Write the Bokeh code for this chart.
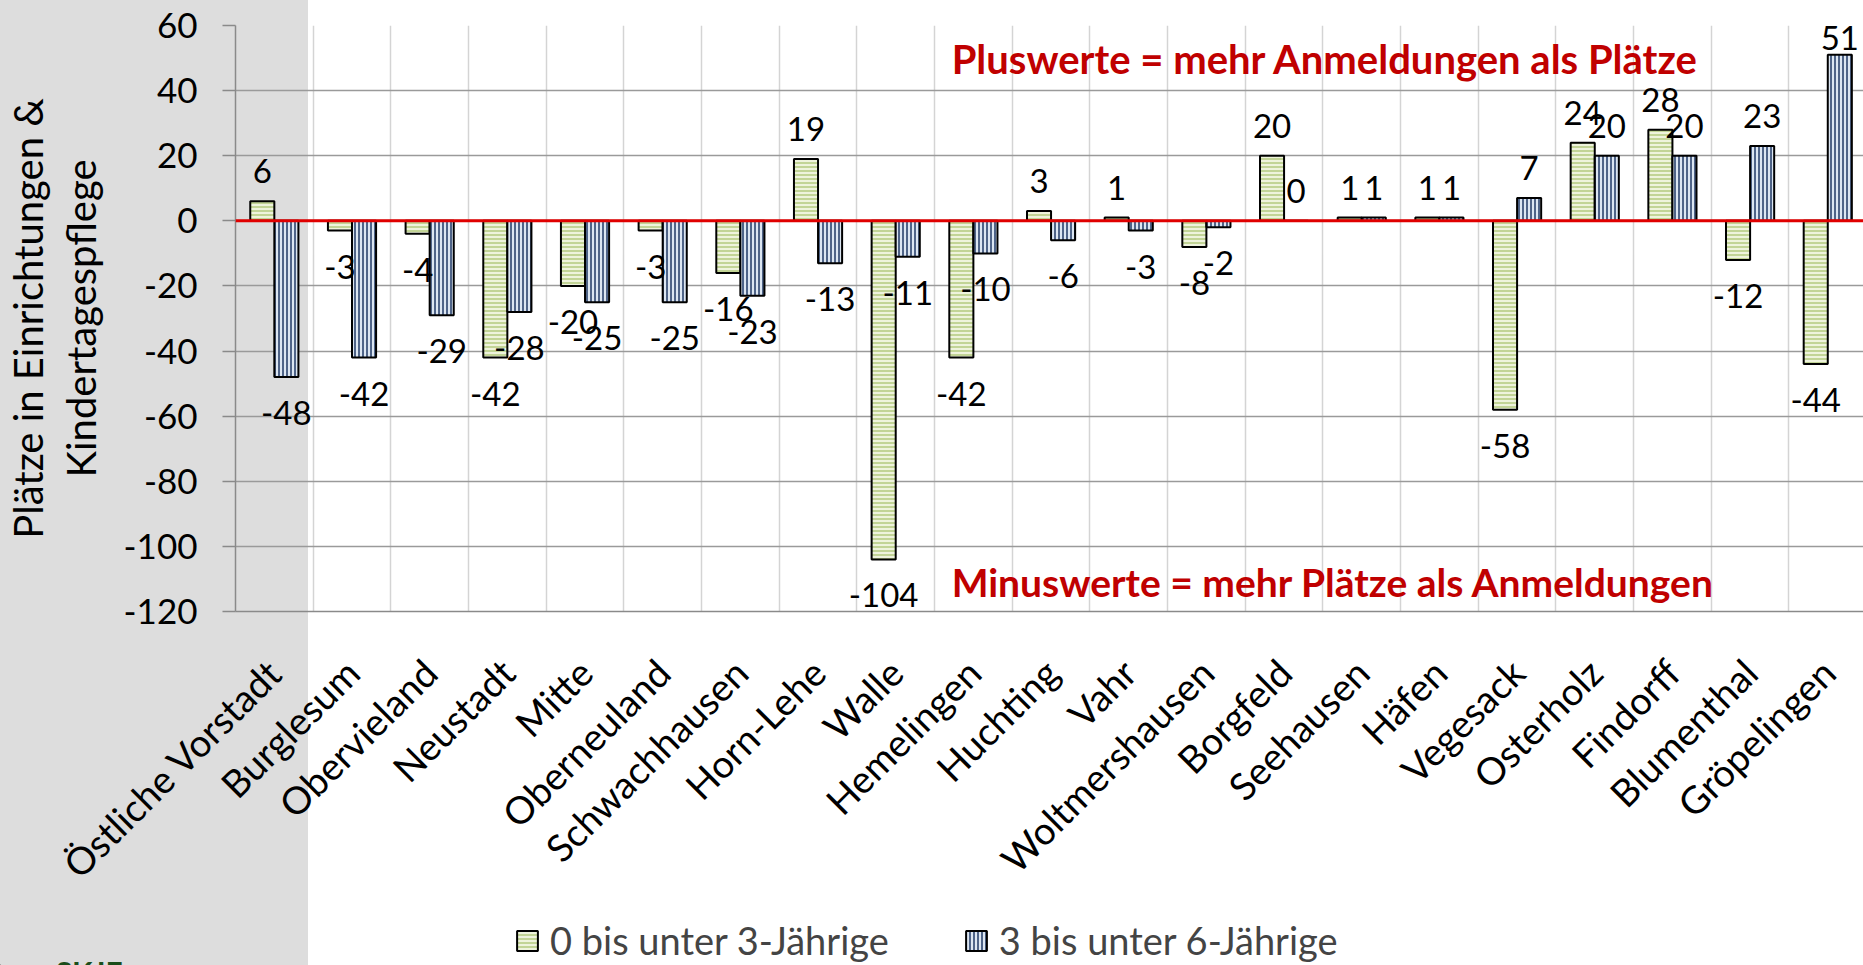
import numpy as np
from bokeh.plotting import figure
from bokeh.layouts import column
from bokeh.models import (Range1d, FixedTicker, Span, Label,
                          Legend, LegendItem, ColumnDataSource)
from bokeh.transform import dodge
from bokeh.core.properties import value
from bokeh.embed import file_html
from bokeh.resources import INLINE

# ---------------- data ----------------
districts = ["Östliche Vorstadt", "Burglesum", "Obervieland", "Neustadt", "Mitte",
             "Oberneuland", "Schwachhausen", "Horn-Lehe", "Walle", "Hemelingen",
             "Huchting", "Vahr", "Woltmershausen", "Borgfeld", "Seehausen", "Häfen",
             "Vegesack", "Osterholz", "Findorff", "Blumenthal", "Gröpelingen"]
u3 = [6, -3, -4, -42, -20, -3, -16, 19, -104, -42, 3, 1, -8, 20, 1, 1, -58, 24, 28, -12, -44]
u6 = [-48, -42, -29, -28, -25, -25, -23, -13, -11, -10, -6, -3, -2, 0, 1, 1, 7, 20, 20, 23, 51]
series_names = ["0 bis unter 3-Jährige", "3 bis unter 6-Jährige"]
y_ticks = list(range(-120, 61, 20))
y_title = "Plätze in Einrichtungen &\nKindertagespflege"
note_plus = "Pluswerte = mehr Anmeldungen als Plätze"
note_minus = "Minuswerte = mehr Plätze als Anmeldungen"
brand = "SKJF"

FONT = "Lato"
SIDEBAR = {"background": "linear-gradient(to right, #dddddd 0px, #dddddd 308px, #ffffff 308px, #ffffff 100%)"}
idx = list(range(1, len(districts) + 1))

GREEN = dict(fill_color="#eef3dc", line_color="black", line_width=2,
             hatch_pattern="horizontal_line", hatch_color="#b3ca7f",
             hatch_scale=4, hatch_weight=1.5)
BLUE = dict(fill_color="#dce6f2", line_color="black", line_width=2,
            hatch_pattern="vertical_line", hatch_color="#1f3864",
            hatch_scale=4, hatch_weight=1.5)

Y_TOP, Y_BOT, FRAME_H = 60, -120, 590
PX = FRAME_H / (Y_TOP - Y_BOT)


def label_offset(v):
    # above positive bars, below negative ones; keep labels inside the frame
    if v >= 0:
        return max(-30, 13 - (Y_TOP - v) * PX)
    return 36


src = ColumnDataSource(dict(
    x=idx, u3=u3, u6=u6,
    l3=[str(v) for v in u3], l6=[str(v) for v in u6],
    o3=[label_offset(v) for v in u3],
    o6=[label_offset(v) for v in u6],
))

p = figure(width=1863, height=905,
           x_range=Range1d(0.5, 21.46), y_range=Range1d(Y_BOT, Y_TOP),
           output_backend="svg", toolbar_location=None,
           min_border_left=233, min_border_right=0,
           min_border_top=25, min_border_bottom=290)
p.frame_align = False
p.background_fill_color = None
p.border_fill_color = None
p.outline_line_color = None
p.styles = SIDEBAR

# grids
p.xgrid.ticker = FixedTicker(ticks=[i + 0.5 for i in idx])
p.xgrid.grid_line_color = "#d4d4d4"
p.xgrid.grid_line_width = 1.5
p.ygrid.ticker = FixedTicker(ticks=y_ticks)
p.ygrid.grid_line_color = "#9a9a9a"
p.ygrid.grid_line_width = 1.5

w = 0.31
r1 = p.vbar(x=dodge("x", -w / 2, range=p.x_range), top="u3", bottom=0, width=w,
            source=src, **GREEN)
r2 = p.vbar(x=dodge("x", w / 2, range=p.x_range), top="u6", bottom=0, width=w,
            source=src, **BLUE)

p.add_layout(Span(location=0, dimension="width", line_color="#e00000", line_width=3))

for col, lab, off, dx in (("u3", "l3", "o3", -w / 2), ("u6", "l6", "o6", w / 2)):
    p.text(x=dodge("x", dx, range=p.x_range), y=col, text=lab, y_offset=off,
           source=src, text_align="center", text_baseline="middle",
           text_font=value(FONT), text_font_size="33px", text_color="black")

# notes
p.add_layout(Label(x=9.72, y=49.6, text=note_plus, text_font=FONT, text_font_size="40px",
                   text_font_style="bold", text_color="#c00000",
                   text_align="left", text_baseline="middle"))
p.add_layout(Label(x=9.72, y=-110.8, text=note_minus, text_font=FONT, text_font_size="39px",
                   text_font_style="bold", text_color="#c00000",
                   text_align="left", text_baseline="middle"))

# axes
p.yaxis.ticker = FixedTicker(ticks=y_ticks)
p.yaxis.major_label_overrides = {t: str(t) for t in y_ticks}
p.yaxis.axis_line_color = "#8a8a8a"
p.yaxis.axis_line_width = 1.5
p.yaxis.major_tick_line_color = "#8a8a8a"
p.yaxis.major_tick_line_width = 1.5
p.yaxis.major_tick_out = 13
p.yaxis.major_tick_in = 0
p.yaxis.minor_tick_line_color = None
p.yaxis.major_label_standoff = 25
p.yaxis.major_label_text_font = FONT
p.yaxis.major_label_text_font_size = "35px"
p.yaxis.major_label_text_color = "black"
p.yaxis.axis_label = y_title
p.yaxis.axis_label_text_font = FONT
p.yaxis.axis_label_text_font_size = "40px"
p.yaxis.axis_label_text_line_height = 1.1
p.yaxis.axis_label_text_font_style = "normal"
p.yaxis.axis_label_text_color = "black"
p.yaxis.axis_label_standoff = 16

p.xaxis.ticker = FixedTicker(ticks=idx)
p.xaxis.major_label_overrides = {i: d for i, d in zip(idx, districts)}
p.xaxis.major_label_orientation = np.pi / 4
p.xaxis.major_label_text_font = FONT
p.xaxis.major_label_text_font_size = "38px"
p.xaxis.major_label_text_color = "black"
p.xaxis.major_label_standoff = 48
p.xaxis.major_tick_line_color = None
p.xaxis.minor_tick_line_color = None
p.xaxis.axis_line_color = "#8a8a8a"
p.xaxis.axis_line_width = 1.5

# ---------------- legend strip ----------------
lf = figure(width=1863, height=60, x_range=Range1d(0, 1863), y_range=Range1d(0, 60),
            output_backend="svg", toolbar_location=None,
            x_axis_type=None, y_axis_type=None,
            min_border_left=0, min_border_right=0, min_border_top=0, min_border_bottom=0)
lf.frame_align = False
lf.background_fill_color = None
lf.border_fill_color = None
lf.outline_line_color = None
lf.xgrid.visible = False
lf.ygrid.visible = False
lf.styles = SIDEBAR
# off-screen stand-ins that only provide the legend swatches
k1 = lf.vbar(x=[-1000], top=[0], width=1, **GREEN)
k2 = lf.vbar(x=[-1000], top=[0], width=1, **BLUE)
legend = Legend(items=[LegendItem(label=series_names[0], renderers=[k1]),
                       LegendItem(label=series_names[1], renderers=[k2])],
                orientation="horizontal", location=(514, 2),
                background_fill_alpha=0, border_line_color=None,
                label_text_font=FONT, label_text_font_size="38px",
                glyph_width=26, glyph_height=25, spacing=74, label_standoff=10,
                padding=0, margin=0)
lf.add_layout(legend)
lf.add_layout(Label(x=55, y=12, text=brand, text_font=FONT, text_font_size="30px",
                    text_font_style="bold", text_color="#1b4d1b",
                    text_align="left", text_baseline="top"))

layout = column(p, lf, spacing=0)
open("out.html", "w").write(file_html(layout, INLINE))
